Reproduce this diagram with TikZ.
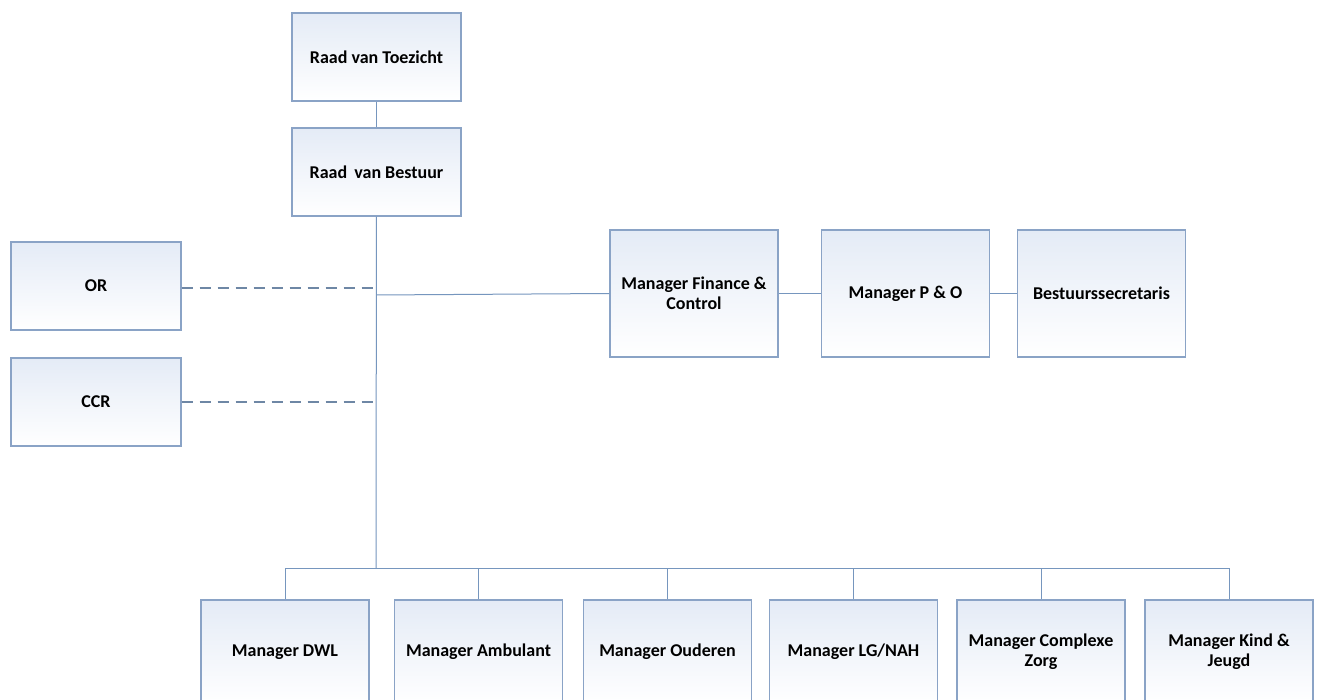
\documentclass[tikz,border=0pt]{standalone}
\usepackage{fontspec}
\setmainfont{Carlito}
\usetikzlibrary{positioning,calc}
\definecolor{boxline}{RGB}{138,163,198}
\definecolor{boxtop}{RGB}{228,235,246}
\definecolor{linkline}{RGB}{118,150,190}
\definecolor{dashline}{RGB}{110,135,165}

\begin{document}
\begin{tikzpicture}[x=1pt,y=-1pt,
  unit/.style={draw=boxline,line width=1.1pt,top color=boxtop,bottom color=white,
    align=center,font=\fontsize{18}{20}\selectfont\bfseries,inner sep=2pt},
  board/.style={unit,minimum width=169pt,minimum height=88pt},
  staff/.style={unit,minimum width=168pt,minimum height=127pt},
  lineman/.style={unit,minimum width=168pt,minimum height=104pt},
  link/.style={linkline,line width=1pt},
  advice/.style={dashline,line width=1.2pt,dash pattern=on 11pt off 7pt}]
  \useasboundingbox (0,0) rectangle (1317,700);
  \clip (0,0) rectangle (1317,700);
  \fill[white] (0,0) rectangle (1317,700);
  % top of the organisation
  \node[board] (rvt) at (376.5,57) {Raad van Toezicht};
  \node[board] (rvb) at (376.5,172) {Raad\,\ van Bestuur};
  \node[board,minimum width=170pt] (or) at (96,286) {OR};
  \node[board,minimum width=170pt] (ccr) at (96,402) {CCR};
  % staff
  \node[staff] (fin) at (694,293.5) {Manager Finance \&\\Control};
  \node[staff] (po) at (905.5,293.5) {Manager P \& O};
  \node[staff] (secr) at (1101.5,293.5) {Bestuurssecretaris};
  % line managers
  \node[lineman] (dwl) at (285,652) {Manager DWL};
  \node[lineman] (amb) at (478.5,652) {Manager Ambulant};
  \node[lineman] (oud) at (667.5,652) {Manager Ouderen};
  \node[lineman] (lg) at (853.5,652) {Manager LG/NAH};
  \node[lineman] (cz) at (1041,652) {Manager Complexe\\Zorg};
  \node[lineman] (kj) at (1229,652) {Manager Kind \&\\Jeugd};
  \coordinate (bus) at (376,568);
  \coordinate (orjoin) at (376,288);
  \coordinate (ccrjoin) at (376,402);
  \coordinate (finjoin) at (376,295);
  % connectors
  \draw[link] (rvt) -- (rvb);
  \draw[link] (rvb) -- (bus);
  \draw[link] (finjoin) -- (fin.west);
  \draw[link] (fin) -- (po);
  \draw[link] (po) -- (secr);
  \draw[advice] (or.east |- orjoin) -- (orjoin);
  \draw[advice] (ccr.east |- ccrjoin) -- (ccrjoin);
  \draw[link] (dwl.north |- bus) -- (kj.north |- bus);
  \foreach \m in {dwl,amb,oud,lg,cz,kj}
    \draw[link] (\m.north) -- (\m.north |- bus);
\end{tikzpicture}
\end{document}
